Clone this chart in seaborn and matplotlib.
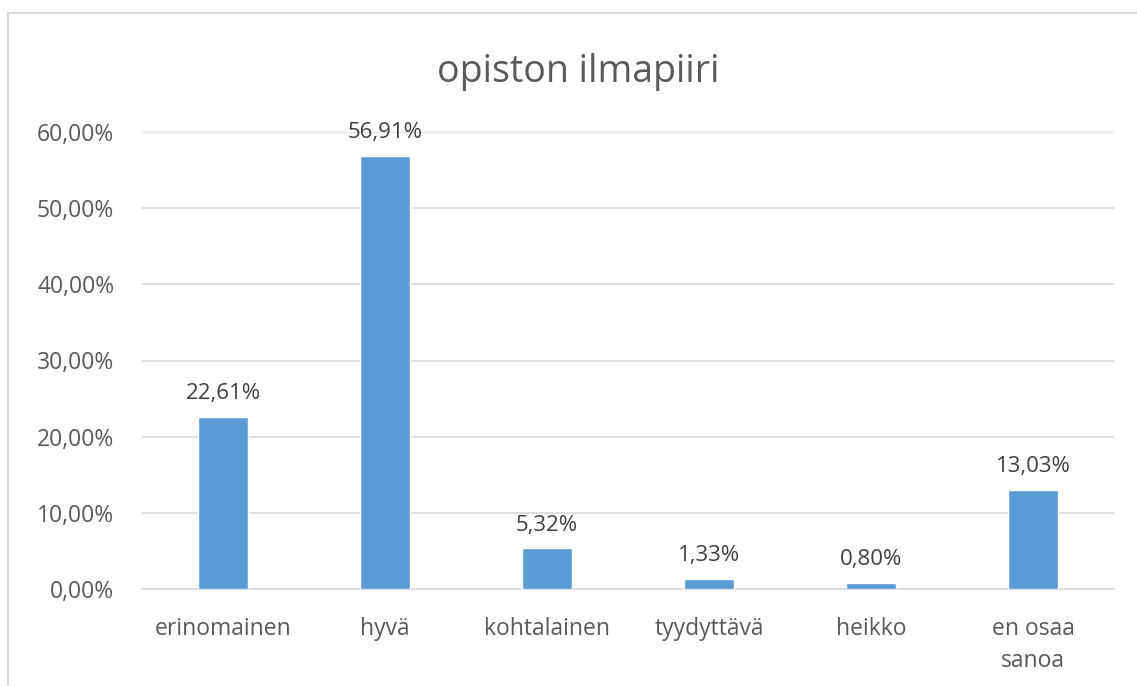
import matplotlib
matplotlib.use("Agg")
import matplotlib.pyplot as plt
import seaborn as sns
import pandas as pd
from matplotlib.patches import Rectangle

categories = ["erinomainen", "hyvä", "kohtalainen", "tyydyttävä", "heikko", "en osaa\nsanoa"]
values = [0.2261, 0.5691, 0.0532, 0.0133, 0.0080, 0.1303]
value_labels = ["22,61%", "56,91%", "5,32%", "1,33%", "0,80%", "13,03%"]
yticks = [0.0, 0.1, 0.2, 0.3, 0.4, 0.5, 0.6]
ytick_labels = ["0,00%", "10,00%", "20,00%", "30,00%", "40,00%", "50,00%", "60,00%"]
title = "opiston ilmapiiri"

sns.set_theme(style="white")
plt.rcParams['font.family'] = ['Open Sans', 'DejaVu Sans']

df = pd.DataFrame({"cat": categories, "val": values})

fig = plt.figure(figsize=(11.37, 6.86), dpi=100)
ax = fig.add_axes([142/1137, 1 - 589/686, (1114-142)/1137, (589-132)/686])

sns.barplot(data=df, x="cat", y="val", color="#5B9BD5", width=0.31,
            saturation=1, ax=ax, zorder=3)

ax.set_ylim(0, 0.6)
ax.set_yticks(yticks)
ax.set_yticklabels(ytick_labels)
ax.grid(axis="y", color="#d9d9d9", linewidth=1.2, zorder=0)
ax.set_axisbelow(True)
for s in ["top", "right", "left"]:
    ax.spines[s].set_visible(False)
ax.spines["bottom"].set_color("#d9d9d9")
ax.spines["bottom"].set_linewidth(1.2)
ax.set_xlabel("")
ax.set_ylabel("")
ax.tick_params(axis="both", length=0, labelsize=16.5, colors="#595959")
ax.tick_params(axis="y", pad=20)
ax.tick_params(axis="x", pad=20)
for t in ax.get_xticklabels():
    t.set_linespacing(1.45)

for i, (v, lab) in enumerate(zip(values, value_labels)):
    ax.annotate(lab, (i, v), xytext=(0, 9), textcoords="offset points",
                ha="center", va="bottom", fontsize=16, color="#404040")

fig.text(578/1137, 1 - 72/686, title, ha="center", va="center",
         fontsize=27, color="#595959")

fig.patches.append(Rectangle((8/1137, -0.1), 1.2, 1 - 13/686 + 0.1,
                             transform=fig.transFigure, fill=False,
                             edgecolor="#d9d9d9", linewidth=1.5))

fig.savefig("out.png", dpi=100)
